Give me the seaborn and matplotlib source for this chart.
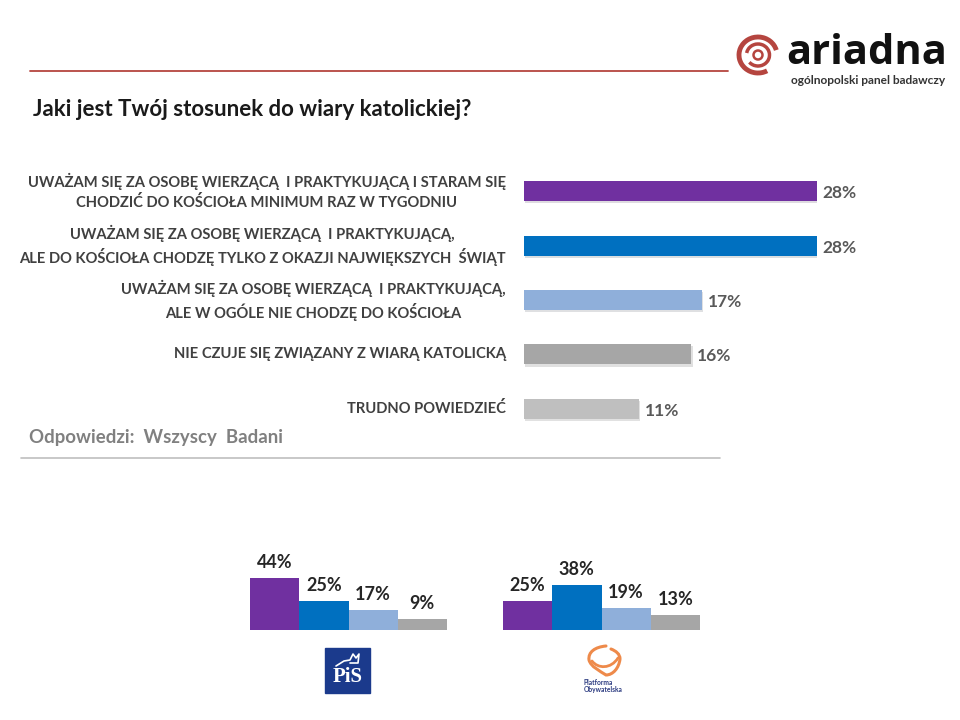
# Import library
import matplotlib
matplotlib.use('Agg')
import matplotlib.pyplot as plt
import matplotlib.patheffects as pe
from matplotlib.patches import Arc, Circle, Rectangle, PathPatch
from matplotlib.path import Path
import pandas as pd
import seaborn as sns

# Data
odpowiedzi = [
    'UWAŻAM SIĘ ZA OSOBĘ WIERZĄCĄ  I PRAKTYKUJĄCĄ I STARAM SIĘ\nCHODZIĆ DO KOŚCIOŁA MINIMUM RAZ W TYGODNIU',
    'UWAŻAM SIĘ ZA OSOBĘ WIERZĄCĄ  I PRAKTYKUJĄCĄ,\nALE DO KOŚCIOŁA CHODZĘ TYLKO Z OKAZJI NAJWIĘKSZYCH  ŚWIĄT',
    'UWAŻAM SIĘ ZA OSOBĘ WIERZĄCĄ  I PRAKTYKUJĄCĄ,\nALE W OGÓLE NIE CHODZĘ DO KOŚCIOŁA',
    'NIE CZUJE SIĘ ZWIĄZANY Z WIARĄ KATOLICKĄ',
    'TRUDNO POWIEDZIEĆ',
]
wszyscy = [28, 28, 17, 16, 11]
kolory = ['#7030A0', '#0070C0', '#8FAFDA', '#A6A6A6', '#BFBFBF']

grupy = ['a', 'b', 'c', 'd']
pis = [44, 25, 17, 9]
po = [25, 38, 19, 13]

sns.set_theme(style='white')
plt.rcParams['font.family'] = ['Lato', 'DejaVu Sans']

fig = plt.figure(figsize=(9.6, 7.2), dpi=100)
W, H = 960, 720


def osie(x0, y0, x1, y1):
    # pozycja osi w pikselach obrazka
    return fig.add_axes([x0 / W, 1 - y1 / H, (x1 - x0) / W, (y1 - y0) / H])


# Warstwa na linie, teksty i logotypy
tlo = osie(0, 0, W, H)
tlo.set_xlim(0, W)
tlo.set_ylim(H, 0)
tlo.axis('off')

tlo.plot([30, 728], [71, 71], color='#B5453F', lw=1.3)
tlo.plot([21, 720], [458, 458], color='#BFBFBF', lw=1.2)
tlo.text(33, 109, 'Jaki jest Twój stosunek do wiary katolickiej?', fontsize=16,
         fontweight='bold', color='#1a1a1a', va='center')
tlo.text(29, 437, 'Odpowiedzi:  Wszyscy  Badani', fontsize=13.4, fontweight='bold',
         color='#808080', va='center')

# Logo ariadna
czerw = '#B5453F'
tlo.add_patch(Arc((758, 55), 38, 36, theta1=60, theta2=345, color=czerw, lw=3.5))
tlo.add_patch(Arc((758, 55), 23, 22, theta1=190, theta2=500, color=czerw, lw=2.5))
tlo.add_patch(Circle((758, 55), 4.5, fill=False, ec=czerw, lw=1.8))
tlo.text(786, 54, 'ariadna', fontsize=30, fontweight='bold', color='#111111',
         va='center', family=['Open Sans', 'DejaVu Sans'])
tlo.text(945, 81, 'ogólnopolski panel badawczy', fontsize=8.6, fontweight='bold',
         color='#333333', va='center', ha='right')

# Logo PiS
tlo.add_patch(Rectangle((325, 648), 45, 45, color='#1B3A8C'))
tlo.text(347.5, 677, 'PiS', fontsize=15, fontweight='bold', color='white', ha='center',
         va='center', family=['Liberation Serif', 'DejaVu Serif'])
tlo.plot([336, 344, 350, 353, 356, 359, 358, 350], [666, 661, 660, 654, 658, 654, 663, 663],
         color='white', lw=1.2)

# Logo Platforma Obywatelska
kontur = Path([(606, 646), (595, 647), (588, 652), (589, 660),
               (591, 667), (600, 671), (606, 675),
               (613, 675), (619, 668), (620, 659),
               (620, 654), (616, 651), (611, 649)],
              [Path.MOVETO] + [Path.CURVE4] * 12)
tlo.add_patch(PathPatch(kontur, fill=False, ec='#EE8A4A', lw=2.2, capstyle='round'))
usmiech = Path([(592, 661), (598, 669), (611, 669), (618, 658)],
               [Path.MOVETO] + [Path.CURVE4] * 3)
tlo.add_patch(PathPatch(usmiech, fill=False, ec='#EE8A4A', lw=2, capstyle='round'))
tlo.text(584, 686, 'Platforma\nObywatelska', fontsize=4.8, fontweight='bold',
         color='#2B3A80', va='center', linespacing=0.9)

# Wykres glowny
df = pd.DataFrame({'odpowiedz': odpowiedzi, 'wynik': wszyscy})
ax = osie(524, 164, 817, 436)
ax.patch.set_alpha(0)
sns.barplot(data=df, y='odpowiedz', x='wynik', hue='odpowiedz', palette=kolory,
            dodge=False, legend=False, width=0.37, saturation=1, linewidth=0, ax=ax)
ax.set_xlim(0, 28)
ax.set_xlabel('')
ax.set_ylabel('')
ax.set_xticks([])
ax.tick_params(axis='y', length=0, pad=13)
for lab in ax.get_yticklabels():
    lab.set_multialignment('center')
    lab.set_verticalalignment('center')
    lab.set_fontsize(10.6)
    lab.set_fontweight('bold')
    lab.set_color('#404040')
    lab.set_linespacing(1.4)
for kont in ax.containers:
    napisy = ax.bar_label(kont, fmt='%d%%', padding=4, fontsize=12.5, fontweight='bold',
                          color='#595959', clip_on=False)
    for n in napisy:
        n.xyann = (4, -1.5)
    for p in kont:
        p.set_path_effects([pe.SimplePatchShadow(offset=(1, -1.5), alpha=0.15), pe.Normal()])
sns.despine(ax=ax, left=True, bottom=True)


def male_slupki(wartosci, x0):
    # 1.18 px na punkt procentowy, podstawa na y=630
    os_m = osie(x0, 630 - 60 * 1.18, x0 + 197, 630)
    os_m.patch.set_alpha(0)
    d = pd.DataFrame({'grupa': grupy, 'wynik': wartosci})
    sns.barplot(data=d, x='grupa', y='wynik', hue='grupa', palette=kolory[:4], dodge=False,
                legend=False, width=1, saturation=1, linewidth=0, ax=os_m)
    os_m.set_ylim(0, 60)
    os_m.set_xlim(-0.5, 3.5)
    os_m.axis('off')
    for kont in os_m.containers:
        os_m.bar_label(kont, fmt='%d%%', padding=5, fontsize=13, fontweight='bold',
                       color='#262626', clip_on=False)


male_slupki(pis, 250)
male_slupki(po, 503)

fig.savefig('out.png', dpi=100, facecolor='white')
